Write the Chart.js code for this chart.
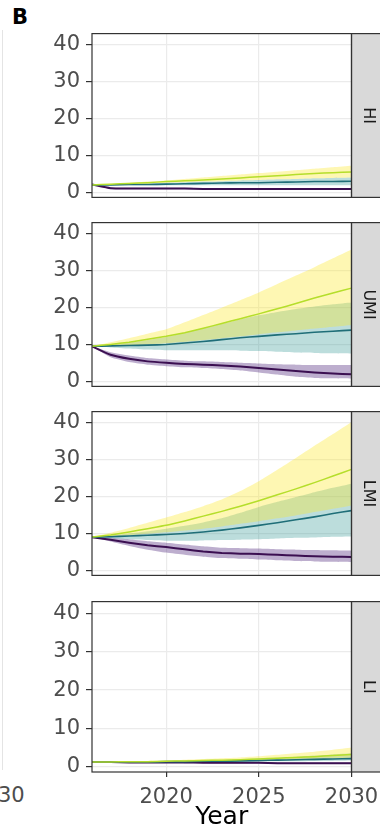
<!DOCTYPE html>
<html lang="en">
<head>
<meta charset="UTF-8" />
<title>Projection by income group</title>
<script src="https://cdn.jsdelivr.net/npm/chart.js"></script>
<style>
  body { margin: 0; background: #fff; }
  #wrap { position: relative; width: 380px; height: 840px; overflow: hidden; font-family: "DejaVu Sans", sans-serif; }
  #wrap canvas { position: absolute; left: 0; }
  #tag { position: absolute; left: 12px; top: 7px; font-size: 21px; line-height: 1; font-weight: bold; color: #000; }
  #edge { position: absolute; left: 2px; top: 30px; width: 1px; height: 740px; background: #e4e4e4; }
  #cut { position: absolute; left: -2px; top: 785px; font-size: 21px; line-height: 1; color: #4d4d4d; }
</style>
</head>
<body>
<div id="wrap">
  <div id="edge"></div>
  <div id="tag">B</div>
  <div id="cut">30</div>
</div>

<script>
  // years on the x axis, ticks
  const years = [2016, 2017, 2018, 2019, 2020, 2021, 2022, 2023, 2024, 2025, 2026, 2027, 2028, 2029, 2030];
  const xTicks = [2020, 2025, 2030];
  const yTicks = [0, 10, 20, 30, 40];
  const panelLabels = ['HI', 'UMI', 'LMI', 'LI'];

  // HI
  const hiYellow   = [2.0, 2.2, 2.4, 2.6, 2.9, 3.1, 3.3, 3.6, 3.9, 4.2, 4.5, 4.8, 5.1, 5.3, 5.5];
  const hiYellowHi = [2.0, 2.3, 2.6, 2.9, 3.2, 3.6, 4.0, 4.4, 4.8, 5.2, 5.6, 6.0, 6.4, 6.8, 7.2];
  const hiYellowLo = [2.0, 2.1, 2.2, 2.4, 2.6, 2.7, 2.9, 3.0, 3.2, 3.3, 3.5, 3.6, 3.8, 3.9, 4.0];
  const hiTeal     = [2.0, 2.0, 2.1, 2.1, 2.2, 2.3, 2.4, 2.5, 2.6, 2.6, 2.7, 2.8, 2.9, 2.9, 3.0];
  const hiTealHi   = [2.0, 2.1, 2.3, 2.4, 2.6, 2.7, 2.9, 3.0, 3.2, 3.3, 3.5, 3.6, 3.8, 3.9, 4.0];
  const hiTealLo   = [2.0, 1.9, 1.9, 1.9, 1.9, 1.9, 1.9, 1.9, 1.9, 1.9, 1.9, 1.9, 1.9, 1.9, 1.9];
  const hiPurple   = [2.1, 1.1, 1.0, 1.0, 1.0, 1.0, 0.9, 0.9, 0.9, 0.9, 0.9, 0.9, 0.9, 0.9, 0.9];
  const hiPurpleHi = [2.1, 1.3, 1.2, 1.2, 1.2, 1.2, 1.1, 1.1, 1.1, 1.1, 1.1, 1.1, 1.1, 1.1, 1.1];
  const hiPurpleLo = [2.1, 0.9, 0.8, 0.8, 0.8, 0.8, 0.7, 0.7, 0.7, 0.7, 0.7, 0.7, 0.7, 0.7, 0.7];

  // UMI
  const umiYellow   = [9.5, 10.0, 10.6, 11.4, 12.2, 13.2, 14.4, 15.7, 17.0, 18.3, 19.7, 21.1, 22.6, 24.0, 25.3];
  const umiYellowHi = [9.5, 10.6, 11.7, 12.9, 14.1, 16.0, 18.0, 20.0, 22.0, 24.1, 26.4, 28.7, 31.0, 33.4, 35.8];
  const umiYellowLo = [9.5, 9.6, 9.8, 10.0, 10.3, 10.7, 11.2, 11.7, 12.2, 12.8, 13.3, 13.8, 14.3, 14.8, 15.3];
  const umiTeal     = [9.5, 9.6, 9.7, 9.8, 10.0, 10.4, 10.8, 11.3, 11.8, 12.2, 12.6, 12.9, 13.3, 13.6, 13.9];
  const umiTealHi   = [9.5, 9.9, 10.5, 11.2, 12.0, 13.2, 14.4, 15.6, 16.8, 17.9, 18.8, 19.6, 20.3, 20.9, 21.4];
  const umiTealLo   = [9.5, 9.2, 8.9, 8.6, 8.4, 8.4, 8.4, 8.4, 8.3, 8.2, 8.0, 7.8, 7.7, 7.6, 7.5];
  const umiPurple   = [9.5, 7.2, 6.1, 5.4, 5.0, 4.7, 4.5, 4.3, 4.0, 3.6, 3.2, 2.8, 2.4, 2.1, 1.9];
  const umiPurpleHi = [9.5, 7.9, 7.0, 6.3, 5.9, 5.6, 5.4, 5.2, 5.0, 4.8, 4.6, 4.5, 4.4, 4.4, 4.4];
  const umiPurpleLo = [9.5, 6.5, 5.2, 4.5, 4.1, 3.8, 3.6, 3.3, 2.9, 2.4, 1.8, 1.2, 0.9, 0.8, 0.7];

  // LMI
  const lmiYellow   = [9.0, 9.6, 10.4, 11.3, 12.2, 13.4, 14.7, 16.0, 17.4, 18.9, 20.5, 22.1, 23.8, 25.6, 27.4];
  const lmiYellowHi = [9.0, 10.2, 11.5, 12.9, 14.3, 15.8, 17.4, 19.2, 21.5, 24.2, 27.3, 30.5, 33.8, 37.0, 40.3];
  const lmiYellowLo = [9.0, 9.2, 9.5, 9.9, 10.3, 10.8, 11.3, 11.9, 12.6, 13.3, 14.1, 14.9, 15.8, 16.7, 17.6];
  const lmiTeal     = [9.0, 9.1, 9.3, 9.5, 9.7, 10.0, 10.4, 10.9, 11.5, 12.2, 12.9, 13.7, 14.5, 15.4, 16.2];
  const lmiTealHi   = [9.0, 9.5, 10.0, 10.6, 11.3, 12.1, 13.0, 14.1, 15.6, 17.2, 18.6, 19.9, 21.2, 22.4, 23.5];
  const lmiTealLo   = [9.0, 8.7, 8.4, 8.2, 8.0, 8.0, 8.1, 8.2, 8.3, 8.4, 8.6, 8.8, 8.9, 9.1, 9.2];
  const lmiPurple   = [9.0, 8.3, 7.5, 6.8, 6.3, 5.7, 5.1, 4.7, 4.5, 4.4, 4.2, 4.0, 3.8, 3.7, 3.6];
  const lmiPurpleHi = [9.0, 8.8, 8.4, 7.9, 7.5, 7.0, 6.5, 6.1, 6.0, 5.9, 5.7, 5.6, 5.5, 5.4, 5.3];
  const lmiPurpleLo = [9.0, 7.8, 6.6, 5.6, 4.8, 4.2, 3.7, 3.3, 3.1, 2.9, 2.7, 2.5, 2.4, 2.3, 2.2];

  // LI
  const liYellow   = [1.2, 1.2, 1.3, 1.3, 1.4, 1.5, 1.6, 1.7, 1.8, 2.0, 2.2, 2.4, 2.6, 2.9, 3.2];
  const liYellowHi = [1.2, 1.3, 1.4, 1.5, 1.6, 1.8, 2.0, 2.2, 2.4, 2.7, 3.1, 3.5, 3.9, 4.4, 5.0];
  const liYellowLo = [1.2, 1.2, 1.2, 1.2, 1.3, 1.3, 1.4, 1.4, 1.5, 1.6, 1.7, 1.8, 1.9, 2.1, 2.3];
  const liTeal     = [1.2, 1.2, 1.2, 1.2, 1.3, 1.3, 1.4, 1.4, 1.5, 1.6, 1.7, 1.8, 1.9, 2.0, 2.1];
  const liTealHi   = [1.2, 1.2, 1.3, 1.3, 1.4, 1.5, 1.6, 1.7, 1.9, 2.1, 2.3, 2.6, 2.9, 3.2, 3.5];
  const liTealLo   = [1.2, 1.2, 1.2, 1.2, 1.2, 1.2, 1.2, 1.3, 1.3, 1.3, 1.4, 1.4, 1.5, 1.5, 1.6];
  const liPurple   = [1.2, 1.2, 1.1, 1.1, 1.1, 1.1, 1.0, 1.0, 1.0, 1.0, 0.9, 0.9, 0.9, 0.9, 0.9];
  const liPurpleHi = [1.3, 1.3, 1.3, 1.3, 1.3, 1.3, 1.2, 1.2, 1.2, 1.2, 1.1, 1.1, 1.1, 1.1, 1.1];
  const liPurpleLo = [1.1, 1.1, 1.0, 1.0, 1.0, 0.9, 0.9, 0.8, 0.8, 0.8, 0.7, 0.7, 0.7, 0.7, 0.7];

  const panelSeries = [
    [hiYellow, hiYellowHi, hiYellowLo, hiTeal, hiTealHi, hiTealLo, hiPurple, hiPurpleHi, hiPurpleLo],
    [umiYellow, umiYellowHi, umiYellowLo, umiTeal, umiTealHi, umiTealLo, umiPurple, umiPurpleHi, umiPurpleLo],
    [lmiYellow, lmiYellowHi, lmiYellowLo, lmiTeal, lmiTealHi, lmiTealLo, lmiPurple, lmiPurpleHi, lmiPurpleLo],
    [liYellow, liYellowHi, liYellowLo, liTeal, liTealHi, liTealLo, liPurple, liPurpleHi, liPurpleLo]
  ];

  const FONT = '"DejaVu Sans", sans-serif';
  const panelTops = [27, 216, 405, 595];
  const plotH = 177;

  function pts(arr) {
    return arr.map((v, i) => ({ x: years[i], y: v }));
  }

  function lineSet(arr, color, width) {
    return { data: pts(arr), borderColor: color, borderWidth: width, pointRadius: 0, fill: false, tension: 0.15 };
  }

  function bandSets(hi, lo, color) {
    return [
      { data: pts(hi), borderWidth: 0, pointRadius: 0, fill: '+1', backgroundColor: color, tension: 0.15 },
      { data: pts(lo), borderWidth: 0, pointRadius: 0, fill: false, tension: 0.15 }
    ];
  }

  // frame + grey facet strip on the right
  const panelFrame = {
    id: 'panelFrame',
    afterDraw(chart, args, opts) {
      const { ctx, chartArea: a } = chart;
      ctx.save();
      ctx.fillStyle = '#d9d9d9';
      ctx.fillRect(a.right, a.top, chart.width - a.right, a.bottom - a.top);
      ctx.strokeStyle = '#333333';
      ctx.lineWidth = 1.2;
      ctx.strokeRect(a.left, a.top, a.right - a.left, a.bottom - a.top);
      ctx.strokeRect(a.right, a.top, chart.width - a.right + 5, a.bottom - a.top);
      ctx.translate((a.right + chart.width) / 2 + 2, (a.top + a.bottom) / 2);
      ctx.rotate(Math.PI / 2);
      ctx.fillStyle = '#1a1a1a';
      ctx.font = '16px ' + FONT;
      ctx.textAlign = 'center';
      ctx.textBaseline = 'middle';
      ctx.fillText(opts.label, 0, 0);
      ctx.restore();
    }
  };

  const wrap = document.getElementById('wrap');

  panelLabels.forEach((label, idx) => {
    const s = panelSeries[idx];
    const isLast = idx === panelLabels.length - 1;
    const canvas = document.createElement('canvas');
    canvas.width = 380;
    canvas.height = isLast ? 840 - (panelTops[idx] - 12) : plotH + 24;
    canvas.style.top = (panelTops[idx] - 12) + 'px';
    wrap.appendChild(canvas);

    const datasets = [
      lineSet(s[0], '#b5de2b', 1.5),
      lineSet(s[3], '#1f6e78', 1.6),
      lineSet(s[6], '#3b0f51', 2),
      ...bandSets(s[1], s[2], 'rgba(253, 231, 37, 0.35)'),
      ...bandSets(s[4], s[5], 'rgba(33, 144, 140, 0.3)'),
      ...bandSets(s[7], s[8], 'rgba(72, 30, 120, 0.36)')
    ];

    new Chart(canvas, {
      type: 'line',
      data: { datasets: datasets },
      plugins: [panelFrame],
      options: {
        responsive: false,
        animation: false,
        events: [],
        layout: { padding: { left: 0, right: 28.5, top: 12, bottom: isLast ? 0 : 12 } },
        plugins: {
          legend: { display: false },
          tooltip: { enabled: false },
          panelFrame: { label: label }
        },
        scales: {
          x: {
            type: 'linear',
            min: 2016,
            max: 2030,
            afterBuildTicks: sc => { sc.ticks = xTicks.map(v => ({ value: v })); },
            afterFit: sc => {
              sc.height = isLast ? 68 : 0;
              // labels may hang into the strip area, keep the plot width fixed
              sc.paddingLeft = 0;
              sc.paddingRight = 0;
            },
            grid: { color: '#ebebeb', lineWidth: 1.2, drawTicks: isLast, tickLength: 5, tickColor: '#333333' },
            border: { display: false },
            ticks: {
              display: isLast,
              font: { family: FONT, size: 21 },
              color: '#4d4d4d',
              padding: 8,
              maxRotation: 0,
              autoSkip: false,
              callback: v => String(v)
            },
            title: {
              display: isLast,
              text: 'Year',
              color: '#000',
              font: { family: FONT, size: 25 },
              padding: { top: 0, bottom: 8 }
            }
          },
          y: {
            min: -1.4,
            max: 43.1,
            afterBuildTicks: sc => { sc.ticks = yTicks.map(v => ({ value: v })); },
            afterFit: sc => { sc.width = 92; },
            grid: { color: '#ebebeb', lineWidth: 1.2, tickLength: 6, tickColor: '#333333' },
            border: { display: false },
            ticks: {
              font: { family: FONT, size: 21 },
              color: '#4d4d4d',
              padding: 6,
              callback: v => String(v)
            }
          }
        }
      }
    });
  });
</script>
</body>
</html>
